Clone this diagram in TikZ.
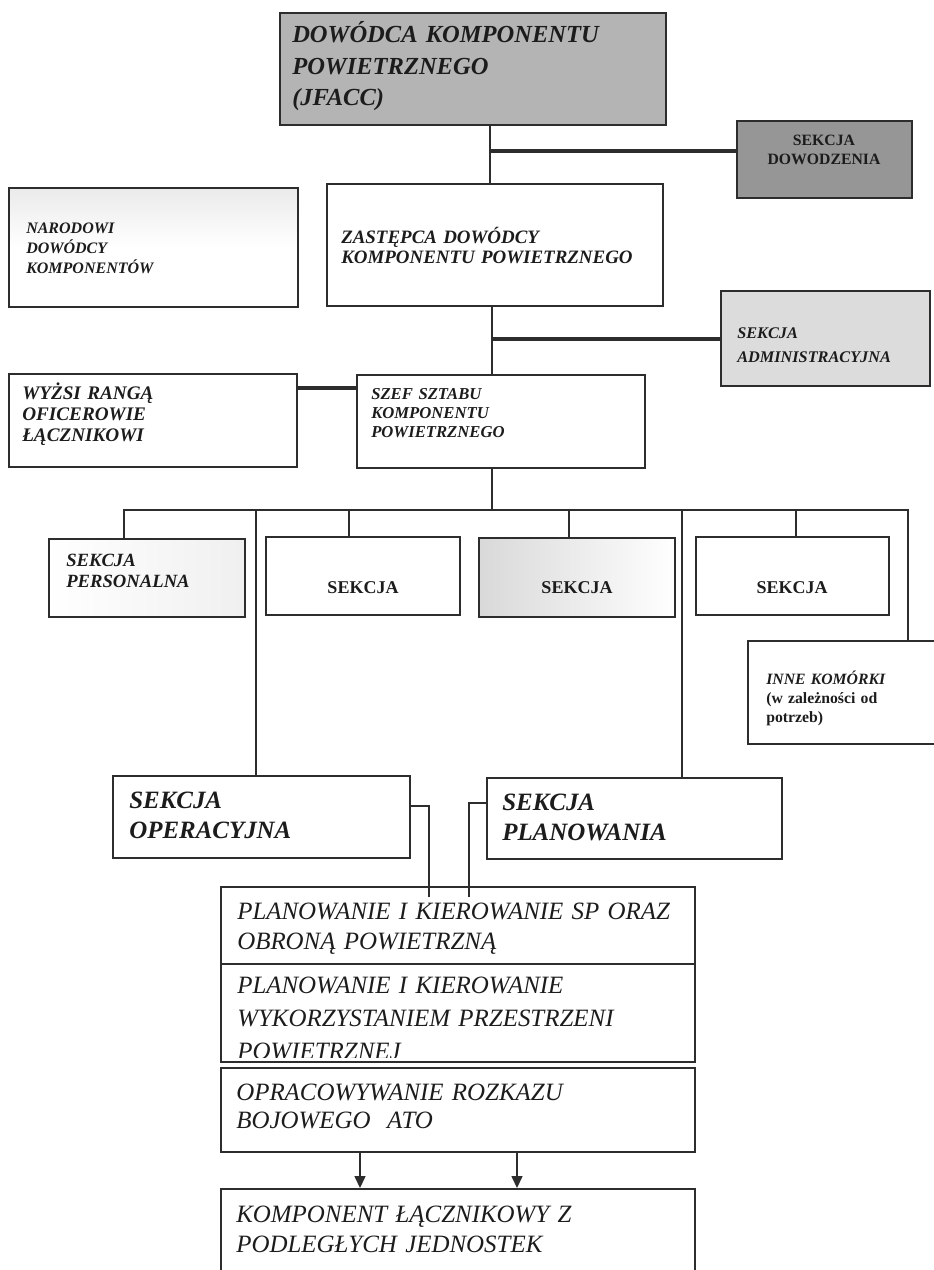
\documentclass[tikz,border=0pt]{standalone}
\usepackage{fontspec}
\setmainfont{Liberation Serif}
\usetikzlibrary{fit,arrows.meta,calc}

\definecolor{ink}{RGB}{28,28,28}
\definecolor{edge}{RGB}{45,45,45}
\definecolor{headgray}{RGB}{180,180,180}
\definecolor{cmdgray}{RGB}{150,150,150}
\definecolor{palegray}{RGB}{220,220,220}

\newcommand{\fsz}[2]{\fontsize{#1}{#2}\selectfont}

\begin{document}
\begin{tikzpicture}[x=0.75pt,y=-0.75pt,
  box/.style={draw=edge, line width=1.3pt, inner sep=0pt, rectangle},
  conn/.style={draw=edge, line width=2pt},
  arr/.style={conn, line width=1.6pt, -{Triangle[length=9pt,width=8pt]}},
  lbl/.style={inner sep=0pt, anchor=base west, align=left, text width=440pt, text=ink},
  ctr/.style={inner sep=0pt, anchor=base, align=center, text width=140pt, text=ink}]

\useasboundingbox (0,0) rectangle (934,1270);

% ---- top level ----
\node[box, fill=headgray, fit={(280,13) (666,125)}] (jfacc) {};
\node[lbl, font=\bfseries\itshape\fsz{18.4}{23.6}] (jfacc-t) at (292,43)
  {DOWÓDCA KOMPONENTU\\POWIETRZNEGO\\(JFACC)};

\node[box, fill=cmdgray, fit={(737,121) (912,198)}] (dow) {};
\node[ctr, font=\bfseries\fsz{11.8}{14.3}] (dow-t) at (824,145) {SEKCJA\\DOWODZENIA};

\node[box, top color=gray!16, bottom color=white, middle color=white, fit={(9,188) (298,307)}] (nar) {};
\node[lbl, font=\bfseries\itshape\fsz{12}{15}] (nar-t) at (26,233)
  {NARODOWI\\DOWÓDCY\\KOMPONENTÓW};

\node[box, fit={(327,184) (663,306)}] (zast) {};
\node[lbl, font=\bfseries\itshape\fsz{14.2}{15}] (zast-t) at (341,243)
  {ZASTĘPCA DOWÓDCY\\KOMPONENTU POWIETRZNEGO};

\node[box, fill=palegray, fit={(721,291) (930,386)}] (adm) {};
\node[lbl, font=\bfseries\itshape\fsz{12.2}{18}] (adm-t) at (737,338)
  {SEKCJA\\ADMINISTRACYJNA};

\node[box, fit={(9,374) (297,467)}] (wyz) {};
\node[lbl, font=\bfseries\itshape\fsz{14.4}{16.1}] (wyz-t) at (22,399)
  {WYŻSI RANGĄ\\OFICEROWIE\\ŁĄCZNIKOWI};

\node[box, fit={(357,375) (645,468)}] (szef) {};
\node[lbl, font=\bfseries\itshape\fsz{12.5}{14.6}] (szef-t) at (371,399)
  {SZEF SZTABU\\KOMPONENTU\\POWIETRZNEGO};

% ---- sections ----
\node[box, left color=white, right color=gray!12, fit={(49,539) (245,617)}] (pers) {};
\node[lbl, font=\bfseries\itshape\fsz{14}{15.8}] (pers-t) at (66,566) {SEKCJA\\PERSONALNA};

\node[box, fit={(266,537) (460,615)}] (s2) {};
\node[ctr, font=\bfseries\fsz{13.5}{16}] (s2-t) at (363,593) {SEKCJA};

\node[box, left color=gray!30, right color=white, fit={(479,538) (675,617)}] (s3) {};
\node[ctr, font=\bfseries\fsz{13.5}{16}] (s3-t) at (577,593) {SEKCJA};

\node[box, fit={(696,537) (889,615)}] (s4) {};
\node[ctr, font=\bfseries\fsz{13.5}{16}] (s4-t) at (792,593) {SEKCJA};

\node[box, fit={(748,641) (945,744)}] (inne) {};
\node[lbl, font=\bfseries\fsz{11.8}{14.6}] (inne-t) at (766,684)
  {\textit{INNE KOMÓRKI}\\(w zależności od\\potrzeb)};

\node[box, fit={(113,776) (410,858)}] (oper) {};
\node[lbl, font=\bfseries\itshape\fsz{18.7}{22.5}] (oper-t) at (129,808) {SEKCJA\\OPERACYJNA};

\node[box, fit={(487,778) (782,859)}] (plan) {};
\node[lbl, font=\bfseries\itshape\fsz{18.7}{22.5}] (plan-t) at (502,810) {SEKCJA\\PLANOWANIA};

% ---- planning stack ----
\node[box, fit={(221,887) (695,964)}] (p1) {};
\node[lbl, font=\itshape\fsz{18.7}{22.5}] (p1-t) at (237,919)
  {PLANOWANIE I KIEROWANIE SP ORAZ\\OBRONĄ POWIETRZNĄ};

\node[box, fit={(221,964) (695,1062)}] (p2) {};
\begin{scope}
  \clip (p2.north west) rectangle ($(p2.south east)+(0,-5)$);
  \node[lbl, font=\itshape\fsz{18.7}{24.75}] (p2-t) at (237,993)
    {PLANOWANIE I KIEROWANIE\\WYKORZYSTANIEM PRZESTRZENI\\POWIETRZNEJ};
\end{scope}

\node[box, fit={(221,1068) (695,1152)}] (ato) {};
\node[lbl, font=\itshape\fsz{18.7}{21}] (ato-t) at (236,1100)
  {OPRACOWYWANIE ROZKAZU\\BOJOWEGO\ \ ATO};

\node[box, fit={(221,1189) (695,1290)}] (kom) {};
\node[lbl, font=\itshape\fsz{18.7}{22.5}] (kom-t) at (236,1222)
  {KOMPONENT ŁĄCZNIKOWY Z\\PODLEGŁYCH JEDNOSTEK};

% ---- connectors ----
\coordinate (j1) at (490,151);
\draw[conn] (jfacc.south -| j1) -- (zast.north -| j1);
\draw[conn, line width=2.4pt] (j1) -- (dow.west |- j1);

\coordinate (j2) at (492,339);
\draw[conn] (zast.south -| j2) -- (szef.north -| j2);
\draw[conn, line width=2.4pt] (j2) -- (adm.west |- j2);

\coordinate (j3) at (330,388);
\draw[conn, line width=2.4pt] (wyz.east |- j3) -- (szef.west |- j3);

\coordinate (bus) at (492,510);
\coordinate (bL) at (124,510);
\coordinate (bR) at (908,510);
\coordinate (b2) at (256,510);
\coordinate (b3) at (349,510);
\coordinate (b4) at (569,510);
\coordinate (b5) at (682,510);
\coordinate (b6) at (796,510);
\draw[conn] (szef.south -| bus) -- (bus);
\draw[conn, line width=2.2pt] (bL |- pers.north) -- (bL) -- (bR) -- (bR |- inne.north);
\draw[conn] (b2) -- (b2 |- oper.north);
\draw[conn] (b3) -- (b3 |- s2.north);
\draw[conn] (b4) -- (b4 |- s3.north);
\draw[conn] (b5) -- (b5 |- plan.north);
\draw[conn] (b6) -- (b6 |- s4.north);

\coordinate (k1) at (429,806);
\coordinate (k1e) at (429,897);
\draw[conn, line width=1.5pt] (oper.east |- k1) -| (k1e);
\coordinate (k2) at (469,803);
\coordinate (k2e) at (469,897);
\draw[conn, line width=1.5pt] (plan.west |- k2) -| (k2e);

\coordinate (a1) at (360,1170);
\coordinate (a2) at (517,1170);
\draw[arr] (ato.south -| a1) -- (kom.north -| a1);
\draw[arr] (ato.south -| a2) -- (kom.north -| a2);

\end{tikzpicture}
\end{document}
